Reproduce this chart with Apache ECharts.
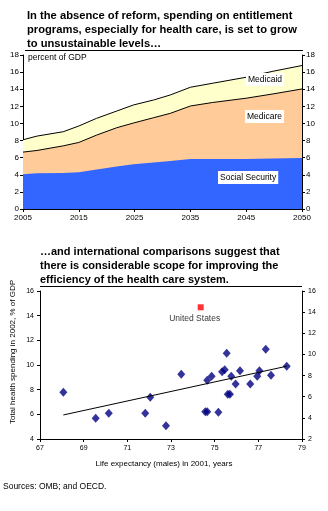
<!DOCTYPE html>
<html>
<head>
<meta charset="utf-8">
<script src="https://cdn.jsdelivr.net/npm/echarts@6/dist/echarts.min.js"></script>
<style>
html,body{margin:0;padding:0;background:#fff;}
#main{width:328px;height:511px;}
</style>
</head>
<body>
<div id="main"></div>
<script>
// upper chart : x position on the year axis (0 = 2005 ... 5 = 2050)
var yearLabels = ['2005','2015','2025','2035','2045','2050'];
var yearPos = [0,0.25,0.72,1.0,1.32,1.68,1.98,2.34,2.64,3.0,3.4,4.0,4.48,5.0];
var socialSecurity = [4.07,4.18,4.22,4.3,4.62,4.98,5.24,5.44,5.6,5.83,5.83,5.83,5.9,5.95];
var medicare = [2.58,2.66,3.16,3.48,4.02,4.52,4.81,5.23,5.58,6.21,6.62,7.12,7.55,8.08];
var medicaid = [1.44,1.68,1.65,1.92,1.96,1.95,2.11,2.07,2.15,2.19,2.25,2.45,2.65,2.74];

// lower chart : life expectancy vs health spending
var lifeExp = [68.07,69.55,70.15,71.82,72.05,72.77,73.47,74.57,74.66,74.66,74.86,75.17,75.34,75.46,75.55,75.6,75.7,75.76,75.96,76.16,76.63,76.95,77.05,77.34,77.58,78.3];
var healthSpend = [7.79,5.68,6.08,6.08,7.38,5.08,9.25,6.2,6.2,8.76,9.08,6.16,9.46,9.62,10.95,7.62,7.62,9.08,8.46,9.54,8.46,9.08,9.54,11.27,9.16,9.9];
var usLifeExp = [74.36];
var usSpend = [14.68];
var trendX = [68.07,78.3];
var trendY = [5.95,9.9];

var FONT = 'Liberation Sans, Arial, sans-serif';

initPage();

function initPage(){
	var myChart = echarts.init(document.getElementById('main'));
	myChart.setOption(buildOption());
}

function pairs(xs, ys){
	var out = [];
	for(var i=0;i<xs.length;i++){
		out.push([xs[i], ys[i]]);
	}
	return out;
}

//running total of the stacked parts (areas are drawn back to front)
function addUp(){
	var out = [];
	for(var i=0;i<yearPos.length;i++){
		var s = 0;
		for(var k=0;k<arguments.length;k++) s += arguments[k][i];
		out.push(+s.toFixed(2));
	}
	return out;
}

function axisBase(){
	return {
		axisLine:{show:true,onZero:false,lineStyle:{color:'#000',width:1}},
		axisTick:{show:true,inside:false,length:3,lineStyle:{color:'#000'}},
		splitLine:{show:false},
		axisLabel:{color:'#000',fontFamily:FONT,fontSize:8,margin:4}
	};
}

function mk(extra){
	var a = axisBase();
	for(var k in extra){
		if(typeof extra[k]=='object' && a[k] && !Array.isArray(extra[k])){
			for(var j in extra[k]) a[k][j] = extra[k][j];
		}else{
			a[k] = extra[k];
		}
	}
	return a;
}

function boxText(txt, x, y){
	return {
		type:'text', left:x, top:y, z:10,
		style:{text:txt, fill:'#000', font:'8.5px '+FONT, backgroundColor:'#fff', padding:[2,2,2,2]}
	};
}

function area(name, vals, fill, line){
	return {
		name:name, type:'line', xAxisIndex:0, yAxisIndex:0,
		data:pairs(yearPos, vals), showSymbol:false,
		lineStyle:line ? {color:'#000',width:1} : {width:0},
		areaStyle:{color:fill,opacity:1}
	};
}

function buildOption(){
	var titleFont = 'bold 11px ' + FONT;
	var topFont = 'bold 11.2px ' + FONT;
	return {
		animation:false,
		backgroundColor:'#fff',
		grid:[
			{left:23, top:55, width:279, height:154},
			{left:40, top:291, width:262, height:148}
		],
		xAxis:[
			mk({gridIndex:0,type:'value',min:0,max:5,interval:1,
				axisLabel:{formatter:function(v){return yearLabels[v];},margin:5}}),
			mk({gridIndex:1,type:'value',min:67,max:79,interval:2,
				axisLabel:{fontSize:7,margin:6}})
		],
		yAxis:[
			mk({gridIndex:0,type:'value',min:0,max:18,interval:2,position:'left'}),
			mk({gridIndex:0,type:'value',min:0,max:18,interval:2,position:'right'}),
			mk({gridIndex:1,type:'value',min:4,max:16,interval:2,position:'left',axisLabel:{fontSize:7,margin:6}}),
			mk({gridIndex:1,type:'value',min:2,max:16,interval:2,position:'right',axisLabel:{fontSize:7,margin:6}})
		],
		series:[
			area('Medicaid', addUp(socialSecurity, medicare, medicaid), '#FFFFCC', true),
			area('Medicare', addUp(socialSecurity, medicare), '#FFCC99', true),
			area('Social Security', socialSecurity, '#3366FF', false),
			{
				name:'trend', type:'line', xAxisIndex:1, yAxisIndex:2,
				data:pairs(trendX, trendY), showSymbol:false,
				lineStyle:{color:'#000',width:1}
			},
			{
				name:'OECD', type:'scatter', xAxisIndex:1, yAxisIndex:2,
				data:pairs(lifeExp, healthSpend), symbol:'diamond', symbolSize:[8,9],
				itemStyle:{color:'#000080'}
			},
			{
				name:'United States', type:'scatter', xAxisIndex:1, yAxisIndex:2,
				data:pairs(usLifeExp, usSpend), symbol:'rect', symbolSize:6,
				itemStyle:{color:'#FF0000'},
				label:{show:true,position:'bottom',distance:4,offset:[-6,0],formatter:'United States',
					color:'#000',fontFamily:FONT,fontSize:8.5}
			}
		],
		graphic:[
			{type:'text',left:27,top:10,style:{text:'In the absence of reform, spending on entitlement',font:topFont,fill:'#000'}},
			{type:'text',left:27,top:24,style:{text:'programs, especially for health care, is set to grow',font:topFont,fill:'#000'}},
			{type:'text',left:27,top:38,style:{text:'to unsustainable levels\u2026',font:topFont,fill:'#000'}},
			{type:'line',shape:{x1:25,y1:50.5,x2:303,y2:50.5},style:{stroke:'#000',lineWidth:1}},
			{type:'text',left:28,top:53,z:10,style:{text:'percent of GDP',font:'8.5px '+FONT,fill:'#000'}},
			boxText('Medicaid',246,73),
			boxText('Medicare',245,110),
			boxText('Social Security',218,171),
			{type:'text',left:40,top:246,style:{text:'\u2026and international comparisons suggest that',font:titleFont,fill:'#000'}},
			{type:'text',left:40,top:260,style:{text:'there is considerable scope for improving the',font:titleFont,fill:'#000'}},
			{type:'text',left:40,top:274,style:{text:'efficiency of the health care system.',font:titleFont,fill:'#000'}},
			{type:'line',shape:{x1:40,y1:286.5,x2:302,y2:286.5},style:{stroke:'#000',lineWidth:1}},
			{type:'text',x:13,y:352,rotation:Math.PI/2,
				style:{text:'Total health spending in 2002, % of GDP',font:'8px '+FONT,fill:'#000',textAlign:'center',textVerticalAlign:'middle'}},
			{type:'text',left:'center',top:460,style:{text:'Life expectancy (males) in 2001, years',font:'8px '+FONT,fill:'#000'}},
			{type:'text',left:3,top:482,style:{text:'Sources: OMB; and OECD.',font:'8.5px '+FONT,fill:'#000'}}
		]
	};
}
</script>
</body>
</html>
